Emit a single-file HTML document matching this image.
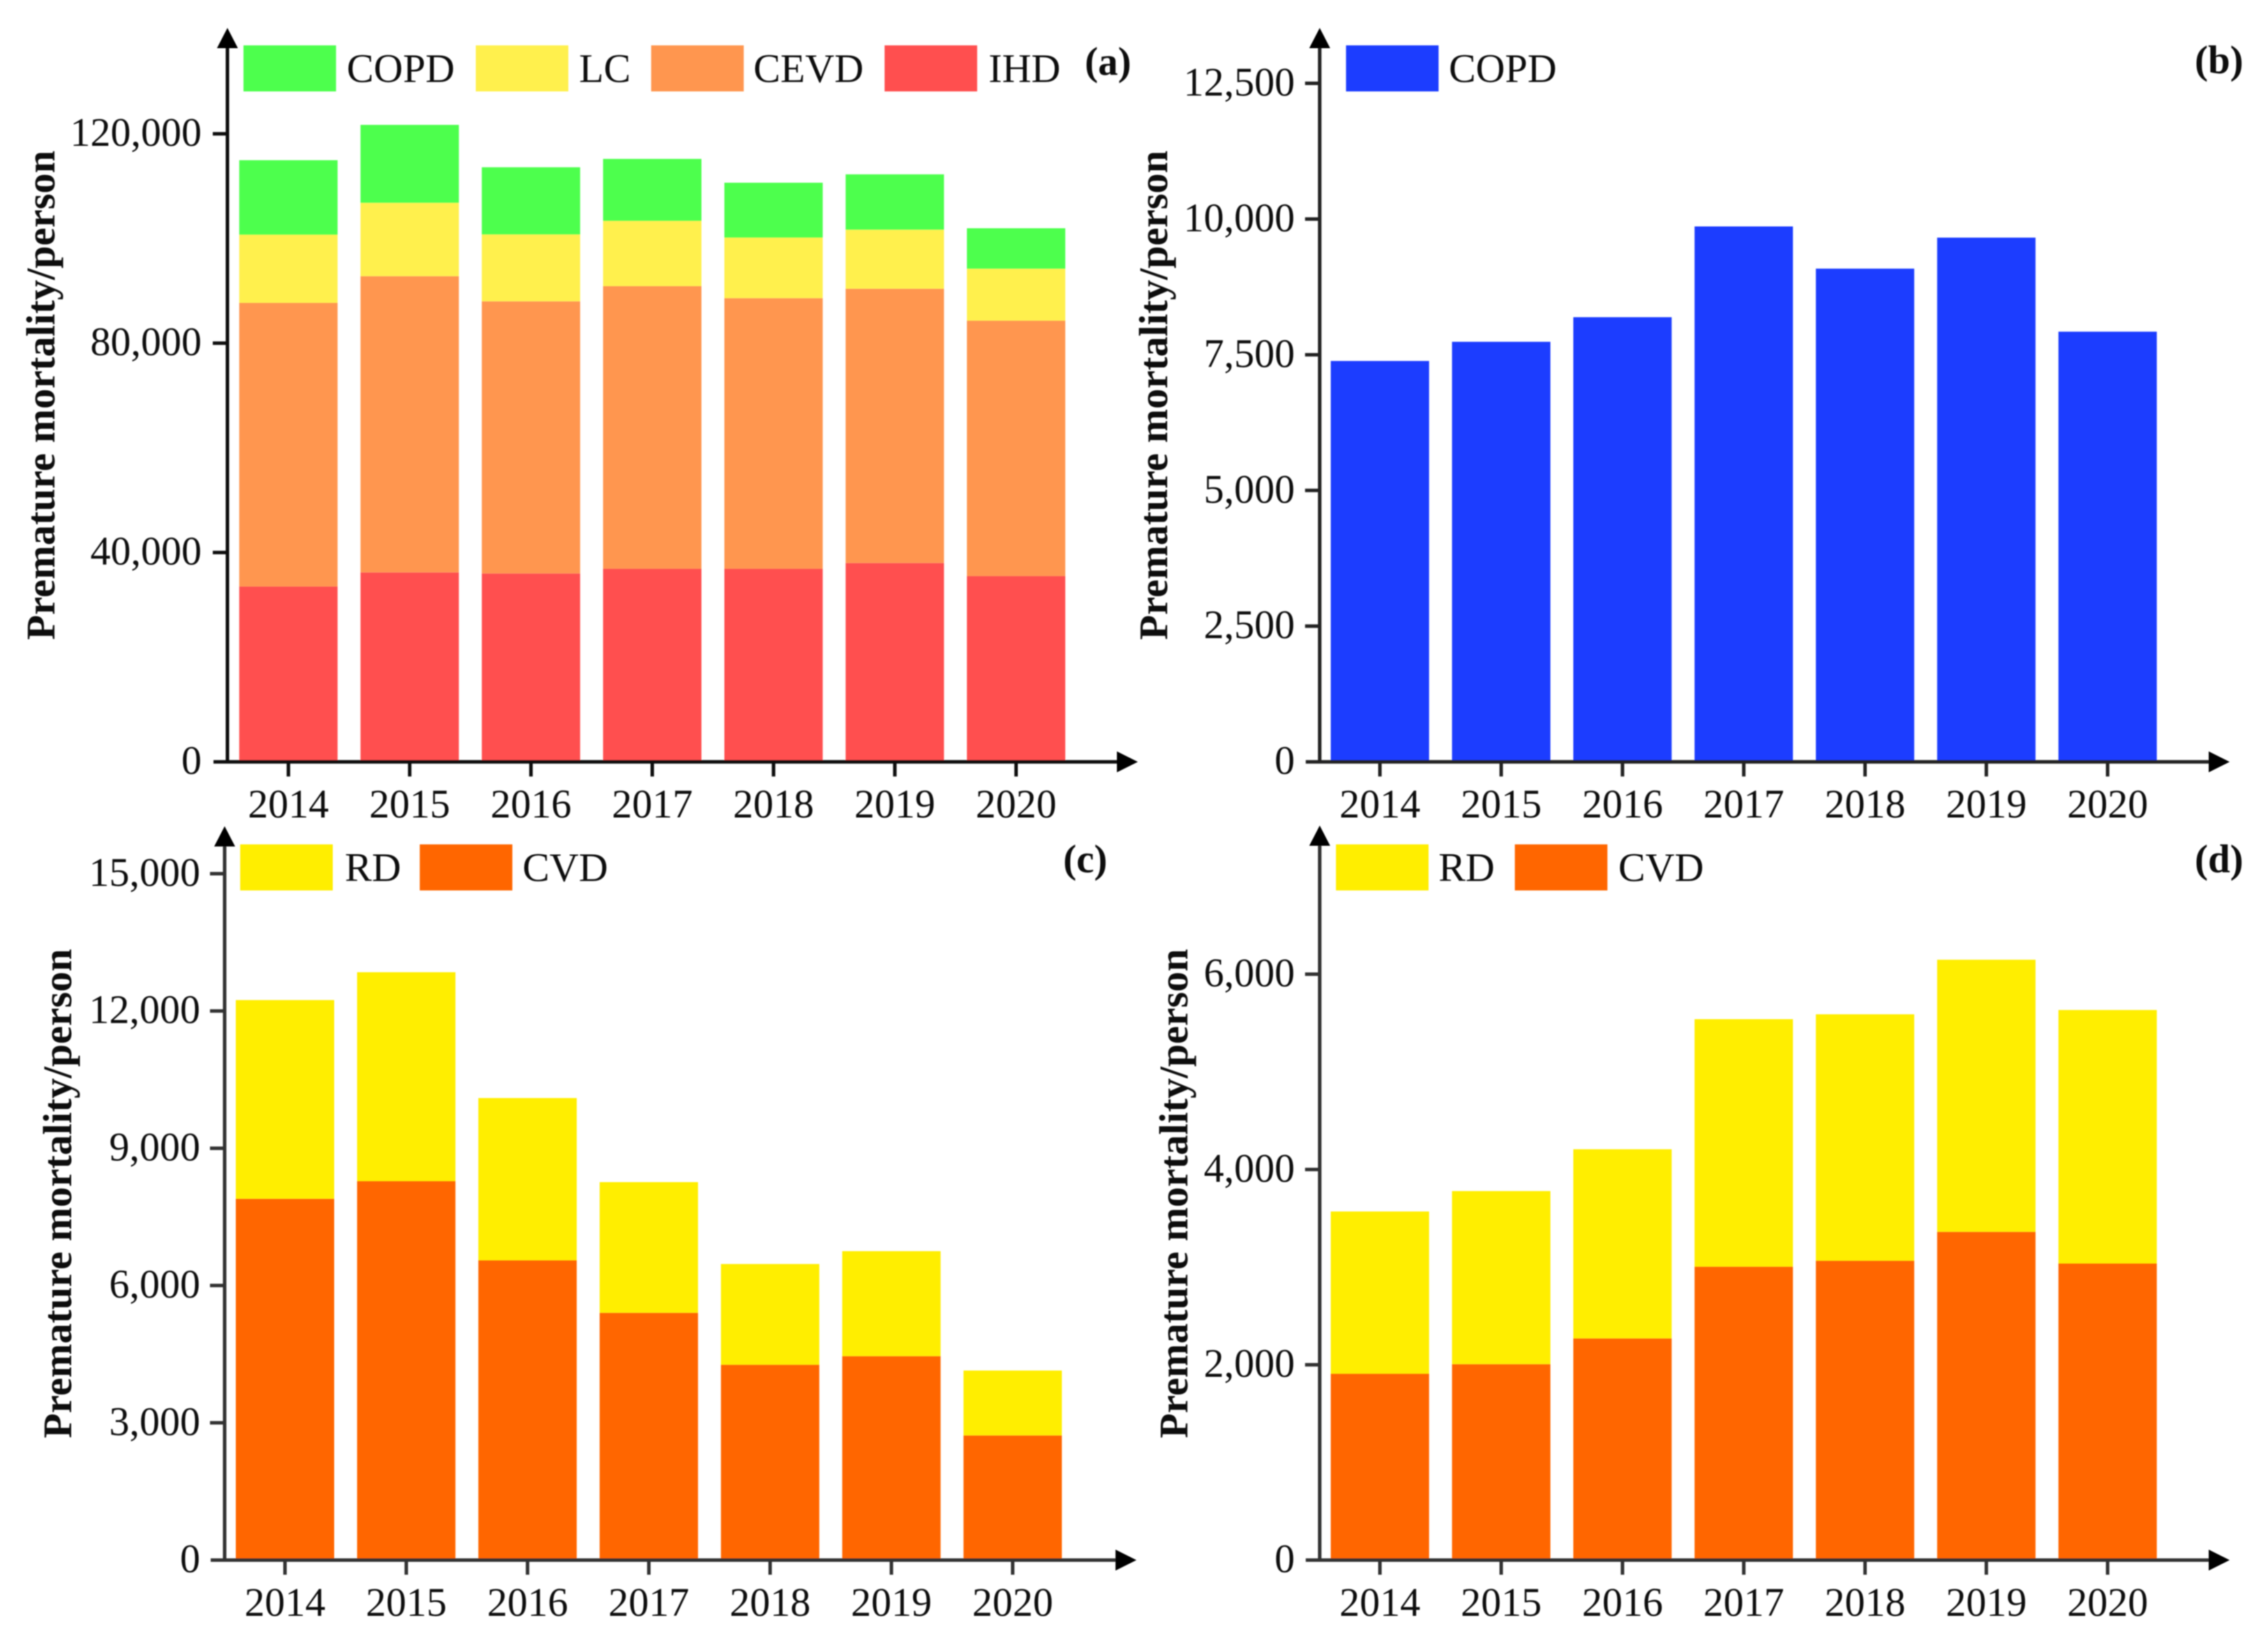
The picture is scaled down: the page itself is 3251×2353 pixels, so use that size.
<!DOCTYPE html>
<html lang="en">
<head>
<meta charset="utf-8">
<title>Premature mortality by disease, 2014-2020</title>
<style>
  html, body { margin: 0; padding: 0; background: #fff; }
  #figure { display: block; width: 3251px; height: 2353px; }
  text { font-family: "Liberation Serif", "Times New Roman", serif; fill: #111; }
  .tick-text { font-size: 58px; }
  .title-text { font-size: 58.5px; font-weight: bold; }
  .panel-text { font-size: 57px; font-weight: bold; }
</style>
</head>
<body>
<svg id="figure" xmlns="http://www.w3.org/2000/svg" width="3251" height="2353" viewBox="0 0 3251 2353">
  <defs>
    <filter id="soft" x="-5%" y="-5%" width="110%" height="110%"><feGaussianBlur stdDeviation="0.8"/></filter>
  </defs>
  <rect width="3251" height="2353" fill="#fff"/>
  <g id="plots" filter="url(#soft)"></g>
</svg>
<script>
const years = ["2014", "2015", "2016", "2017", "2018", "2019", "2020"];

const ihdValues  = [33500, 36200, 36000, 36900, 36900, 38000, 35500];
const cevdValues = [54200, 56600, 52000, 54000, 51700, 52400, 48800];
const lcValues   = [13000, 14000, 12750, 12450, 11550, 11250, 9900];
const copdAValues = [14250, 14900, 12850, 11850, 10500, 10600, 7750];

const copdBValues = [7385, 7738, 8191, 9863, 9086, 9657, 7925];

const cvdCValues = [7897, 8283, 6552, 5405, 4270, 4458, 2726];
const rdCValues  = [4341, 4564, 3545, 2855, 2200, 2293, 1416];

const cvdDValues = [1909, 2007, 2271, 3005, 3066, 3362, 3038];
const rdDValues  = [1661, 1772, 1936, 2534, 2523, 2786, 2595];

const ticksA = [0, 40000, 80000, 120000];
const ticksB = [0, 2500, 5000, 7500, 10000, 12500];
const ticksC = [0, 3000, 6000, 9000, 12000, 15000];
const ticksD = [0, 2000, 4000, 6000];

const yTitle = "Premature mortality/person";

const colors = { COPD: "#4dff4d", LC: "#fff04d", CEVD: "#ff9650", IHD: "#ff5050", COPDB: "#1f3dff", RD: "#ffee00", CVD: "#ff6600" };

const panels = [
  { id: "a", letter: "(a)", axisX: 326, baseY: 1091.7, arrowTopY: 40, arrowRightX: 1631, tickMax: 120000, tickMaxY: 191.7,
    firstCenter: 413.4, labelRight: 289, titleX: 78, titleEndY: 917, letterX: 1555, letterY: 107,
    ticks: ticksA, axisColor: "#111",
    stack: [["IHD", ihdValues, colors.IHD], ["CEVD", cevdValues, colors.CEVD], ["LC", lcValues, colors.LC], ["COPD", copdAValues, colors.COPD]],
    legend: [["COPD", colors.COPD, 349, 497], ["LC", colors.LC, 682, 830], ["CEVD", colors.CEVD, 933.4, 1080], ["IHD", colors.IHD, 1268, 1417]],
    legendY: 65 },
  { id: "b", letter: "(b)", axisX: 1891.7, baseY: 1091.7, arrowTopY: 40, arrowRightX: 3196, tickMax: 12500, tickMaxY: 119.4,
    firstCenter: 1978, labelRight: 1856, titleX: 1673, titleEndY: 917, letterX: 3146, letterY: 105,
    ticks: ticksB, axisColor: "#222",
    stack: [["COPD", copdBValues, colors.COPDB]],
    legend: [["COPD", colors.COPDB, 1929.4, 2076.7]],
    legendY: 65 },
  { id: "c", letter: "(c)", axisX: 322, baseY: 2235.6, arrowTopY: 1184, arrowRightX: 1629, tickMax: 15000, tickMaxY: 1252,
    firstCenter: 408.5, labelRight: 287, titleX: 102, titleEndY: 2061, letterX: 1524, letterY: 1250,
    ticks: ticksC, axisColor: "#333",
    stack: [["CVD", cvdCValues, colors.CVD], ["RD", rdCValues, colors.RD]],
    legend: [["RD", colors.RD, 344.3, 494.3], ["CVD", colors.CVD, 601.7, 749]],
    legendY: 1210 },
  { id: "d", letter: "(d)", axisX: 1891.7, baseY: 2235.6, arrowTopY: 1183, arrowRightX: 3196, tickMax: 6000, tickMaxY: 1396,
    firstCenter: 1978, labelRight: 1856, titleX: 1702, titleEndY: 2061, letterX: 3146, letterY: 1250,
    ticks: ticksD, axisColor: "#333",
    stack: [["CVD", cvdDValues, colors.CVD], ["RD", rdDValues, colors.RD]],
    legend: [["RD", colors.RD, 1915, 2062], ["CVD", colors.CVD, 2171.4, 2319.8]],
    legendY: 1210 }
];

const SVG_NS = "http://www.w3.org/2000/svg";
const BAR_PITCH = 173.85;
const BAR_WIDTH = 141;
const root = document.getElementById("plots");

function make(tag, attrs, parent, content) {
  const node = document.createElementNS(SVG_NS, tag);
  for (const key in attrs) node.setAttribute(key, attrs[key]);
  if (content !== undefined) node.textContent = content;
  parent.appendChild(node);
  return node;
}

function formatTick(v) {
  return String(v).replace(/\B(?=(\d{3})+$)/g, ",");
}

function drawPanel(p) {
  const group = make("g", {}, root);
  
  

  const yScale = v => p.baseY - (v / p.tickMax) * (p.baseY - p.tickMaxY);
  const xScale = i => p.firstCenter + i * BAR_PITCH;

  years.forEach((year, i) => {
    let running = 0;
    p.stack.forEach(series => {
      const value = series[1][i];
      const top = yScale(running + value);
      const bottom = yScale(running);
      const bar = make("rect", { x: xScale(i) - BAR_WIDTH / 2, y: top, width: BAR_WIDTH, height: bottom - top, fill: series[2] }, group);
      
      
      running += value;
    });
  });

  const yAxis = make("line", { x1: p.axisX, x2: p.axisX, y1: p.baseY + 2, y2: p.arrowTopY + 25, stroke: p.axisColor, "stroke-width": 5 }, group);
  
  

  const yArrow = make("polygon", { points: `${p.axisX},${p.arrowTopY} ${p.axisX - 15},${p.arrowTopY + 29} ${p.axisX + 15},${p.arrowTopY + 29}`, fill: "#000" }, group);
  
  

  const xAxis = make("line", { x1: p.axisX - 20, x2: p.arrowRightX - 25, y1: p.baseY, y2: p.baseY, stroke: p.axisColor, "stroke-width": 5 }, group);
  
  

  const xArrow = make("polygon", { points: `${p.arrowRightX},${p.baseY} ${p.arrowRightX - 30},${p.baseY - 15} ${p.arrowRightX - 30},${p.baseY + 15}`, fill: "#000" }, group);
  
  

  p.ticks.forEach(v => {
    const y = yScale(v);
    if (v !== 0) {
      const tick = make("line", { x1: p.axisX - 21, x2: p.axisX, y1: y, y2: y, stroke: p.axisColor, "stroke-width": 5 }, group);
      
      
    }
    const label = make("text", { x: p.labelRight, y: y + 17.5, "text-anchor": "end", class: "tick-text" }, group, formatTick(v));
    
    
  });

  years.forEach((year, i) => {
    const x = xScale(i);
    const tick = make("line", { x1: x, x2: x, y1: p.baseY, y2: p.baseY + 21, stroke: p.axisColor, "stroke-width": 5 }, group);
    
    
    const label = make("text", { x: x, y: p.baseY + 80, "text-anchor": "middle", class: "tick-text" }, group, year);
    
    
  });

  const title = make("text", { class: "title-text", transform: `translate(${p.titleX},${p.titleEndY}) rotate(-90)`, x: 0, y: 0 }, group, yTitle);
  
  

  p.legend.forEach(entry => {
    const swatch = make("rect", { x: entry[2], y: p.legendY, width: 132.7, height: 66, fill: entry[1] }, group);
    
    
    const text = make("text", { x: entry[3], y: p.legendY + 52.5, class: "tick-text" }, group, entry[0]);
    
    
  });

  const letter = make("text", { x: p.letterX, y: p.letterY, class: "panel-text" }, group, p.letter);
  
  
}

panels.forEach(drawPanel);
</script>
</body>
</html>
